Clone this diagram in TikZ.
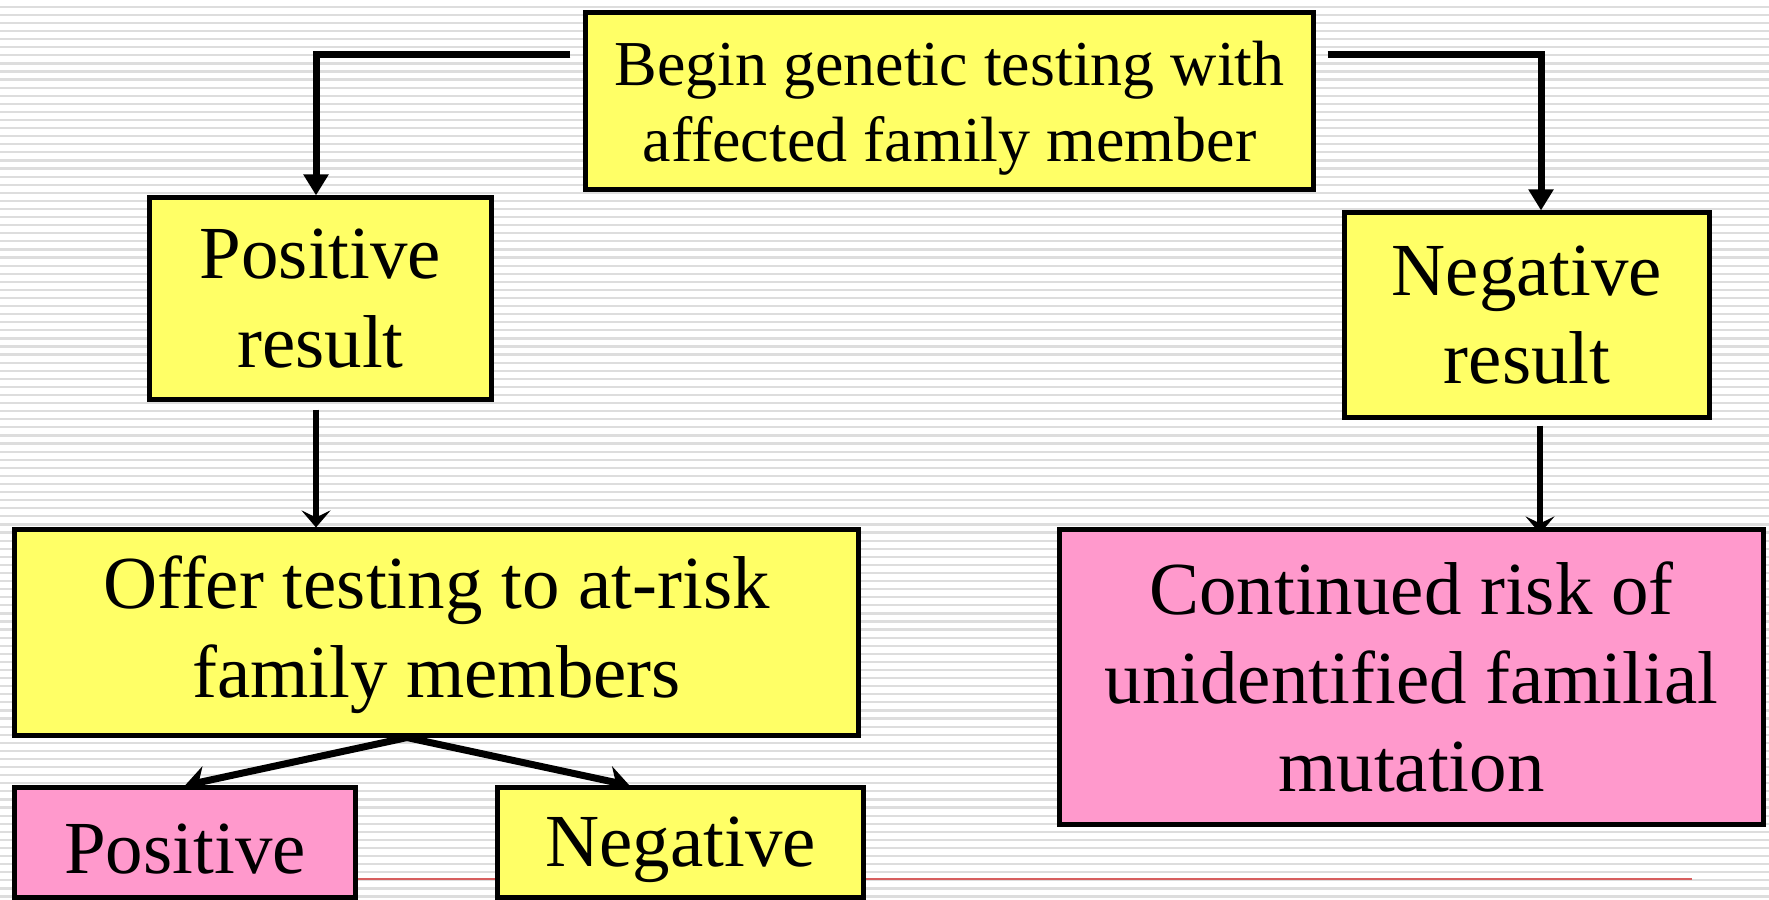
\documentclass[tikz,border=0pt]{standalone}
\usepackage{fontspec}
\setmainfont{Liberation Serif}
\usetikzlibrary{arrows.meta,calc}
\pgfdeclarelayer{bg}
\pgfdeclarelayer{edges}
\pgfsetlayers{bg,edges,main}
\definecolor{boxyellow}{RGB}{255,255,102}
\definecolor{boxpink}{RGB}{255,153,204}
\definecolor{stripegray}{RGB}{221,221,221}
\definecolor{rulered}{RGB}{215,95,95}
\newcommand{\lowerstrut}[1]{\rule{0pt}{#1}}
\tikzset{
  box/.style={draw=black, line width=0.05cm, align=center, inner sep=0pt, anchor=center},
  ybox/.style={box, fill=boxyellow},
  pbox/.style={box, fill=boxpink},
  bigtext/.style={font=\fontsize{21.3}{25.2}\selectfont},
  smalltext/.style={font=\fontsize{18.2}{21.6}\selectfont},
  thickconn/.style={line width=0.07cm, -{Triangle[width=0.24cm,length=0.21cm]}},
  midconn/.style={line width=0.06cm, -{Stealth[width=0.29cm,length=0.17cm,inset=0.07cm]}},
  branchconn/.style={line width=0.07cm, -{Stealth[width=0.3cm,length=0.21cm,inset=0.07cm]}}
}
\begin{document}
\begin{tikzpicture}[x=0.01cm,y=-0.01cm]
\useasboundingbox (0,0) rectangle (1769,900);
\clip (0,0) rectangle (1769,900);
\begin{pgfonlayer}{bg}
  \fill[white] (0,0) rectangle (1769,900);
  \foreach \i in {0,...,111}{
    \fill[stripegray] (0,{5.7+\i*8.088}) rectangle (1769,{7.9+\i*8.088});
  }
  \draw[rulered, line width=0.02cm] (100,879) -- (1692,879);
\end{pgfonlayer}

\node[ybox, smalltext, minimum width=7.27cm, minimum height=1.76cm] (begin) at (949.5,101)
  {\lowerstrut{16.6pt}Begin genetic testing with\\affected family member};
\node[ybox, bigtext, minimum width=3.41cm, minimum height=2.01cm] (pos) at (320.5,298.5)
  {Positive\\result};
\node[ybox, bigtext, minimum width=3.64cm, minimum height=2.04cm] (neg) at (1527,315)
  {Negative\\result};
\node[ybox, bigtext, minimum width=8.43cm, minimum height=2.05cm] (offer) at (436.5,632.5)
  {\lowerstrut{16.4pt}Offer testing to at-risk\\family members};
\node[pbox, bigtext, minimum width=7.03cm, minimum height=2.94cm] (cont) at (1411.5,677)
  {Continued risk of\\unidentified familial\\mutation};
\node[pbox, bigtext, minimum width=3.40cm, minimum height=1.09cm] (posb) at (185,842.5)
  {\lowerstrut{18pt}Positive};
\node[ybox, bigtext, minimum width=3.65cm, minimum height=1.09cm] (negb) at (680.5,842.5)
  {\lowerstrut{18pt}Negative};

\coordinate (bl) at ($(begin.north west)+(-13,44.5)$);
\coordinate (br) at ($(begin.north east)+(12,44.5)$);
\coordinate (apex) at ($(offer.south)+(-29.5,0)$);

\begin{pgfonlayer}{edges}
  \draw[thickconn] (bl) -| ($(pos.north)+(-4.5,0)$);
  \draw[thickconn] (br) -| ($(neg.north)+(14,0)$);
  \draw[midconn] ($(pos.south)+(-4.5,8)$) -- ($(offer.north)+(-120.5,0)$);
  \draw[midconn] ($(neg.south)+(13,6)$) -- ($(cont.north)+(128.5,6)$);
  \draw[branchconn] (apex) -- (posb.north);
  \draw[branchconn] (apex) -- ($(negb.north)+(-51,0)$);
\end{pgfonlayer}
\end{tikzpicture}
\end{document}
